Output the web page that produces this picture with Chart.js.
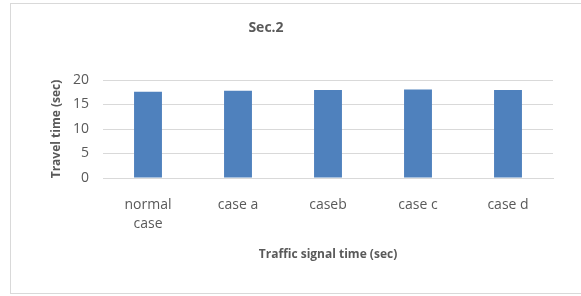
<!DOCTYPE html>
<html>
<head>
<meta charset="utf-8">
<script src="https://cdn.jsdelivr.net/npm/chart.js@4.4.0/dist/chart.umd.min.js"></script>
<style>
    html, body { margin: 0; padding: 0; background: #fff; }
    #wrap { position: relative; width: 581px; height: 296px; overflow: hidden; }
    #frame { position: absolute; left: 10px; top: 3px; width: 600px; height: 291px; border: 1px solid #d9d9d9; box-sizing: border-box; }
    #chart { position: absolute; left: 0; top: 0; }
</style>
</head>
<body>
<div id="wrap">
    <div id="frame"></div>
    <canvas id="chart" width="581" height="296"></canvas>
</div>
<script>
const chartTitle = 'Sec.2';
const categories = [['normal', 'case'], 'case a', 'caseb', 'case c', 'case d'];
const travelTime = [17.6, 17.8, 17.95, 18.05, 17.95];
const yTicks = [0, 5, 10, 15, 20];
const xTitle = 'Traffic signal time (sec)';
const yTitle = 'Travel time (sec)';

const grey = '#595959';
const font = "'Open Sans', sans-serif";

// title is drawn by hand: Excel does not centre it on the plot
const titlePlugin = {
    id: 'sheetTitle',
    afterDraw(chart) {
        const ctx = chart.ctx;
        ctx.save();
        ctx.font = 'bold 14px ' + font;
        ctx.fillStyle = grey;
        ctx.textAlign = 'center';
        ctx.textBaseline = 'middle';
        ctx.fillText(chartTitle, 266, 28);
        ctx.restore();
    }
};

const ctx = document.getElementById('chart').getContext('2d');
new Chart(ctx, {
    type: 'bar',
    data: {
        labels: categories,
        datasets: [{
            data: travelTime,
            backgroundColor: '#4f81bd',
            borderWidth: 0,
            categoryPercentage: 1,
            barPercentage: 0.31,
        }]
    },
    options: {
        responsive: false,
        animation: false,
        layout: {
            padding: { left: 40, right: 28, top: 80, bottom: 30 }
        },
        plugins: {
            legend: { display: false },
            tooltip: { enabled: false },
            title: { display: false },
        },
        scales: {
            x: {
                grid: { display: false, drawTicks: false },
                border: { display: true, color: '#d9d9d9', width: 1 },
                ticks: {
                    color: grey,
                    font: { family: font, size: 14, lineHeight: 1.36 },
                    padding: 17,
                    maxRotation: 0,
                    autoSkip: false,
                },
                title: {
                    display: true,
                    text: xTitle,
                    color: grey,
                    font: { family: font, size: 12, weight: 'bold' },
                    padding: { top: 4, bottom: 4 },
                },
                afterFit(scale) { scale.height = 88; }
            },
            y: {
                min: 0,
                max: 20,
                afterBuildTicks(scale) {
                    scale.ticks = yTicks.map(v => ({ value: v }));
                },
                grid: { color: '#d9d9d9', drawTicks: false },
                border: { display: false },
                ticks: {
                    color: grey,
                    font: { family: font, size: 14 },
                    padding: 14,
                },
                title: {
                    display: true,
                    text: yTitle,
                    color: grey,
                    font: { family: font, size: 12, weight: 'bold' },
                    padding: { top: 9, bottom: 0 },
                },
                afterFit(scale) { scale.width = 63; }
            }
        }
    },
    plugins: [titlePlugin]
});
</script>
</body>
</html>
